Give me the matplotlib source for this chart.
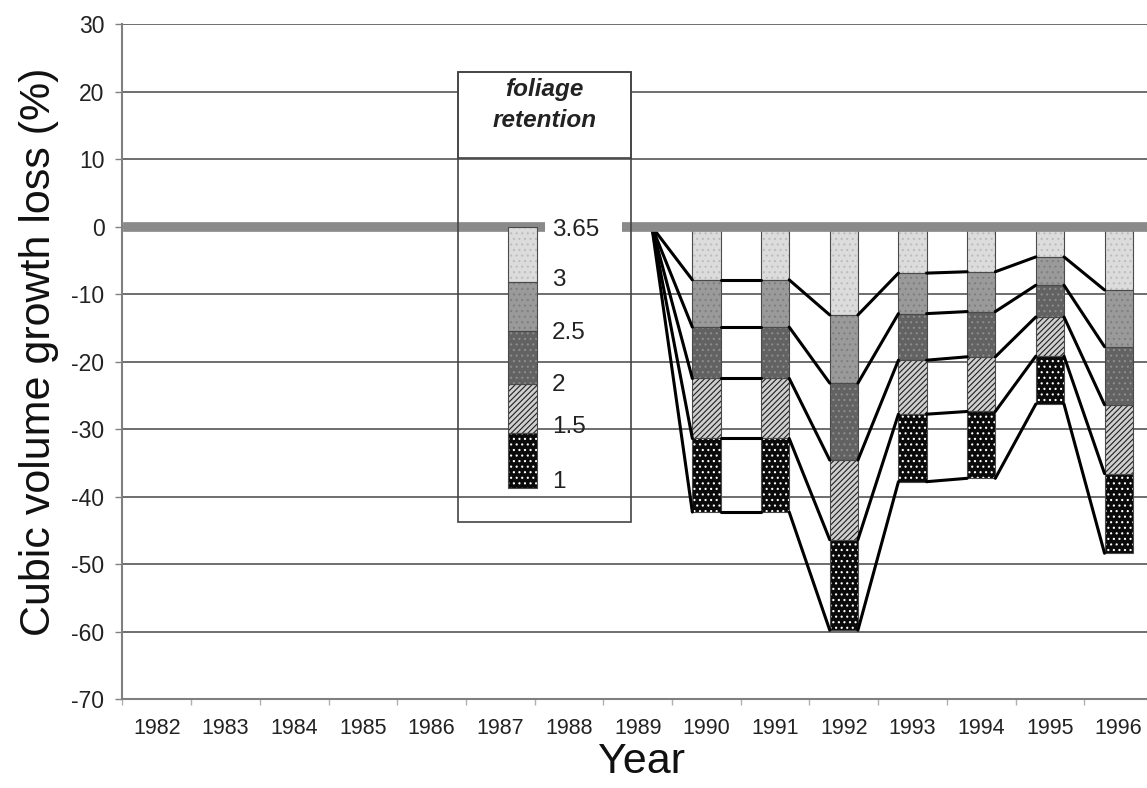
import matplotlib
matplotlib.use("Agg")
import matplotlib.pyplot as plt
from matplotlib.patches import Rectangle
import numpy as np

plt.rcParams['font.family'] = ['Liberation Sans', 'DejaVu Sans']
plt.rcParams['hatch.linewidth'] = 0.8
plt.rcParams['axes.unicode_minus'] = False

# ---------------- data ----------------
years = [1982, 1983, 1984, 1985, 1986, 1987, 1988, 1989,
         1990, 1991, 1992, 1993, 1994, 1995, 1996]
retention_labels = ["3.65", "3", "2.5", "2", "1.5", "1"]
# growth loss increments (%) for each foliage-retention class band
band_365_3 = [0, 0, 0, 0, 0, 0, 0, 0, -7.9, -7.9, -13.1, -6.9, -6.7, -4.5, -9.4]
band_3_25 = [0, 0, 0, 0, 0, 0, 0, 0, -7.0, -7.0, -10.1, -6.0, -5.9, -4.2, -8.4]
band_25_2 = [0, 0, 0, 0, 0, 0, 0, 0, -7.6, -7.6, -11.4, -6.9, -6.7, -4.7, -8.6]
band_2_15 = [0, 0, 0, 0, 0, 0, 0, 0, -8.9, -8.9, -11.8, -8.0, -8.1, -5.8, -10.2]
band_15_1 = [0, 0, 0, 0, 0, 0, 0, 0, -10.9, -10.9, -13.4, -10.0, -9.9, -7.1, -11.8]
bands = [band_365_3, band_3_25, band_25_2, band_2_15, band_15_1]
legend_band_fracs = [7.9, 7.0, 7.6, 7.0, 7.8]  # legend swatch proportions

# ---------------- styles ----------------
styles = [
    dict(fc='#dcdcdc', hatch='...', hc='#bdbdbd'),
    dict(fc='#9a9a9a', hatch='...', hc='#7f7f7f'),
    dict(fc='#626262', hatch='...', hc='#8c8c8c'),
    dict(fc='#cfcfcf', hatch='//////', hc='#202020'),
    dict(fc='#0a0a0a', hatch='...', hc='#ffffff'),
]

fig = plt.figure(figsize=(11.47, 7.88), dpi=100)
ax = fig.add_axes([0.1068, 0.1129, 0.8984, 0.8566])

x = np.arange(len(years))
w = 0.41

ax.set_xlim(-0.5, len(years) - 0.5)
ax.set_ylim(-70, 30)
ax.set_yticks(np.arange(-70, 31, 10))
ax.yaxis.grid(True, color='#555555', lw=1.2, zorder=0)
ax.set_axisbelow(True)

bottom = np.zeros(len(years))
cums = []
for vals, st in zip(bands, styles):
    v = np.array(vals, dtype=float)
    ax.bar(x, v, bottom=bottom, width=w, color=st['fc'], hatch=st['hatch'],
           edgecolor=st['hc'], linewidth=0, zorder=2)
    ax.bar(x, v, bottom=bottom, width=w, fill=False, edgecolor='#4a4a4a',
           linewidth=0.8, zorder=2.5)
    bottom = bottom + v
    cums.append(bottom.copy())

# series lines (connect band ends between neighbouring columns)
for c in cums:
    for i in range(len(years) - 1):
        if c[i] == 0 and c[i + 1] == 0:
            continue
        ax.plot([x[i] + w / 2, x[i + 1] - w / 2], [c[i], c[i + 1]],
                color='black', lw=2.2, zorder=3, solid_capstyle='round')

# thick grey zero line
ax.axhline(0, xmin=0.005, color='#8a8a8a', lw=7, zorder=4)

# axes cosmetics
for s in ['top', 'right']:
    ax.spines[s].set_visible(False)
for s in ['left', 'bottom']:
    ax.spines[s].set_color('#808080')
    ax.spines[s].set_linewidth(1.5)
    ax.spines[s].set_zorder(5)

ax.set_xticks(x)
ax.set_xticklabels([str(y) for y in years], fontsize=15.5, color='#222222')
ax.set_xticks(np.arange(-0.5, len(years), 1.0), minor=True)
ax.tick_params(axis='x', which='major', length=0, pad=14)
ax.tick_params(axis='x', which='minor', length=4, color='#b0b0b0', width=1)
ax.tick_params(axis='y', length=5, color='#808080', width=1, pad=8,
               labelsize=16.5, labelcolor='#222222')

ax.set_ylabel("Cubic volume growth loss (%)", fontsize=31, va='center', color='#111111')
ax.yaxis.set_label_coords(-0.0815, 0.515)
ax.set_xlabel("Year", fontsize=31, va='center', color='#111111')
ax.xaxis.set_label_coords(0.504, -0.094)

# ---------------- legend (drawn as inset) ----------------
T = ax.transAxes
bl, br, bt, bb, tb = 0.3256, 0.4935, 0.9289, 0.2622, 0.8015
ax.add_patch(Rectangle((bl, tb), br - bl, bt - tb, transform=T, facecolor='white',
                       edgecolor='#444444', lw=1.2, zorder=6, clip_on=False))
ax.add_patch(Rectangle((bl, bb), br - bl, bt - bb, transform=T, fill=False,
                       edgecolor='#444444', lw=1.2, zorder=6, clip_on=False))
ax.text((bl + br) / 2, 0.8800, "foliage\nretention", transform=T, ha='center',
        va='center', fontsize=17.5, fontweight='bold', fontstyle='italic',
        linespacing=1.4, color='#222222', zorder=7)

# white gap in the zero line behind the "3.65" label
ax.add_patch(Rectangle((0.410, 0.688), 0.0747, 0.022, transform=T,
                       facecolor='white', edgecolor='none', zorder=4.5))

lx0, lw_ = 0.3744, 0.0281
ly_top, ly_bot = 0.6993, 0.3126
fr = np.array(legend_band_fracs) / np.sum(legend_band_fracs)
ytop = ly_top
for f, st in zip(fr, styles):
    h = f * (ly_top - ly_bot)
    ax.add_patch(Rectangle((lx0, ytop - h), lw_, h, transform=T, facecolor=st['fc'],
                           hatch=st['hatch'], edgecolor=st['hc'], lw=0, zorder=6))
    ax.add_patch(Rectangle((lx0, ytop - h), lw_, h, transform=T, fill=False,
                           edgecolor='#4a4a4a', lw=0.8, zorder=6.5))
    ytop -= h

label_y = [0.6948, 0.6207, 0.5422, 0.4652, 0.4030, 0.3215]
for lab, yy in zip(retention_labels, label_y):
    ax.text(0.4166, yy, lab, transform=T, ha='left', va='center', fontsize=17.5,
            color='#222222', zorder=7)

fig.savefig("out.png", dpi=100)
